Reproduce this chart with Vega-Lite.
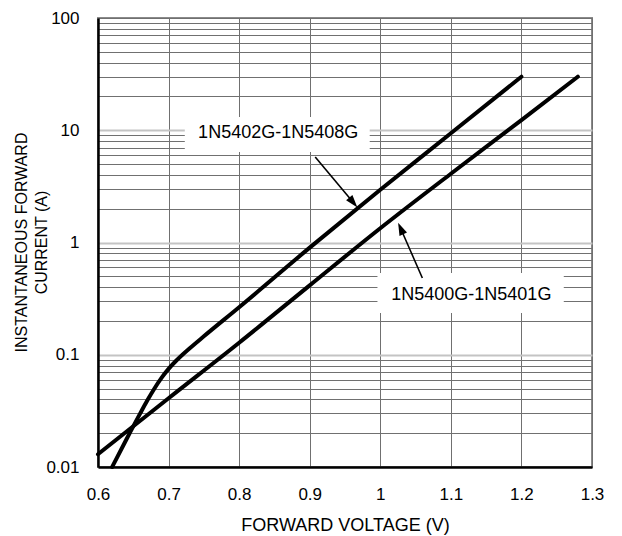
{
  "$schema": "https://vega.github.io/schema/vega-lite/v6.json",
  "width": 494,
  "height": 449,
  "autosize": "none",
  "padding": {"left": 98, "top": 18, "right": 30, "bottom": 69},
  "background": "white",
  "config": {
    "font": "Liberation Sans",
    "view": {"stroke": "#8a8a8a", "strokeWidth": 2},
    "axis": {
      "labelFont": "Liberation Sans",
      "titleFont": "Liberation Sans",
      "labelColor": "black",
      "titleColor": "black",
      "labelFontSize": 17,
      "titleFontSize": 18,
      "titleFontWeight": "normal",
      "domainColor": "black",
      "domainWidth": 2.5,
      "ticks": false,
      "labelFlush": false,
      "labelOverlap": false
    }
  },
  "datasets": {
    "curves": [
      {"series": "1N5402G-1N5408G", "v": 0.62, "i": 0.01},
      {"series": "1N5402G-1N5408G", "v": 0.64, "i": 0.0175},
      {"series": "1N5402G-1N5408G", "v": 0.66, "i": 0.0302},
      {"series": "1N5402G-1N5408G", "v": 0.67, "i": 0.0393},
      {"series": "1N5402G-1N5408G", "v": 0.68, "i": 0.0501},
      {"series": "1N5402G-1N5408G", "v": 0.69, "i": 0.0622},
      {"series": "1N5402G-1N5408G", "v": 0.7, "i": 0.0748},
      {"series": "1N5402G-1N5408G", "v": 0.71, "i": 0.0875},
      {"series": "1N5402G-1N5408G", "v": 0.72, "i": 0.1005},
      {"series": "1N5402G-1N5408G", "v": 0.73, "i": 0.1143},
      {"series": "1N5402G-1N5408G", "v": 0.75, "i": 0.146},
      {"series": "1N5402G-1N5408G", "v": 0.8, "i": 0.265},
      {"series": "1N5402G-1N5408G", "v": 0.9, "i": 0.9},
      {"series": "1N5402G-1N5408G", "v": 1.0, "i": 2.95},
      {"series": "1N5402G-1N5408G", "v": 1.1, "i": 9.4},
      {"series": "1N5402G-1N5408G", "v": 1.2, "i": 30},
      {"series": "1N5400G-1N5401G", "v": 0.6, "i": 0.013},
      {"series": "1N5400G-1N5401G", "v": 0.7, "i": 0.041},
      {"series": "1N5400G-1N5401G", "v": 0.8, "i": 0.128},
      {"series": "1N5400G-1N5401G", "v": 0.9, "i": 0.415},
      {"series": "1N5400G-1N5401G", "v": 1.0, "i": 1.34},
      {"series": "1N5400G-1N5401G", "v": 1.1, "i": 4.1},
      {"series": "1N5400G-1N5401G", "v": 1.2, "i": 12.3},
      {"series": "1N5400G-1N5401G", "v": 1.28, "i": 30}
    ],
    "labels": [
      {"label": "1N5402G-1N5408G", "v": 0.8553, "i": 9.45, "v0": 0.723, "v1": 0.985, "i0": 6.4, "i1": 13.1},
      {"label": "1N5400G-1N5401G", "v": 1.129, "i": 0.34, "v0": 0.996, "v1": 1.26, "i0": 0.236, "i1": 0.534}
    ],
    "arrows": [
      {"arrow": "A", "v0": 0.9078, "i0": 5.78, "v1": 0.9618, "i1": 2.27},
      {"arrow": "B", "v0": 1.0596, "i0": 0.483, "v1": 1.0289, "i1": 1.333}
    ]
  },
  "layer": [
    {
      "data": {"name": "labels"},
      "mark": {"type": "rect", "fill": "white", "stroke": null},
      "encoding": {
        "x": {"field": "v0", "type": "quantitative", "scale": {"domain": [0.6, 1.3], "nice": false, "zero": false},
              "axis": {"values": [0.6, 0.7, 0.8, 0.9, 1.0, 1.1, 1.2, 1.3], "format": "~g", "title": "FORWARD VOLTAGE (V)",
                       "gridColor": "#707070", "gridWidth": 1, "labelPadding": 19, "titlePadding": 14}},
        "x2": {"field": "v1"},
        "y": {"field": "i0", "type": "quantitative", "scale": {"type": "log", "domain": [0.01, 100], "nice": false},
              "axis": {
                "values": [0.01, 0.02, 0.03, 0.04, 0.05, 0.06, 0.07, 0.08, 0.09, 0.1, 0.2, 0.3, 0.4, 0.5, 0.6, 0.7, 0.8, 0.9, 1, 2, 3, 4, 5, 6, 7, 8, 9, 10, 20, 30, 40, 50, 60, 70, 80, 90, 100],
                "format": "~g",
                "labelExpr": "indexof([0.01, 0.1, 1, 10, 100], datum.value) >= 0 ? datum.label : ''",
                "labelPadding": 19,
                "gridColor": {"condition": {"test": "indexof([0.1, 1, 10], datum.value) >= 0", "value": "#c4c4c4"}, "value": "#707070"},
                "gridWidth": {"condition": {"test": "indexof([0.1, 1, 10], datum.value) >= 0", "value": 2}, "value": 1},
                "title": ["INSTANTANEOUS FORWARD", "CURRENT (A)"],
                "titleFontSize": 16,
                "titleLineHeight": 20,
                "titleAngle": -90,
                "titleAlign": "center",
                "titleBaseline": "middle",
                "titleX": -77,
                "titleY": 224
              }},
        "y2": {"field": "i1"}
      }
    },
    {
      "data": {"name": "curves"},
      "mark": {"type": "line", "color": "black", "strokeWidth": 4, "strokeCap": "round", "strokeJoin": "round", "interpolate": "monotone"},
      "encoding": {
        "x": {"field": "v", "type": "quantitative", "scale": {"domain": [0.6, 1.3], "nice": false, "zero": false}},
        "y": {"field": "i", "type": "quantitative", "scale": {"type": "log", "domain": [0.01, 100], "nice": false}},
        "detail": {"field": "series"},
        "order": {"field": "v", "type": "quantitative"}
      }
    },
    {
      "data": {"name": "arrows"},
      "mark": {"type": "rule", "color": "black", "strokeWidth": 1.6},
      "encoding": {
        "x": {"field": "v0", "type": "quantitative", "scale": {"domain": [0.6, 1.3], "nice": false, "zero": false}},
        "y": {"field": "i0", "type": "quantitative", "scale": {"type": "log", "domain": [0.01, 100], "nice": false}},
        "x2": {"field": "v1"},
        "y2": {"field": "i1"}
      }
    },
    {
      "data": {"name": "arrows"},
      "transform": [{"filter": "datum.arrow == 'A'"}],
      "mark": {"type": "point", "shape": "M0,-1L0.65,1L-0.65,1Z", "size": 160, "angle": 140, "filled": true, "color": "black", "opacity": 1},
      "encoding": {
        "x": {"field": "v1", "type": "quantitative", "scale": {"domain": [0.6, 1.3], "nice": false, "zero": false}},
        "y": {"field": "i1", "type": "quantitative", "scale": {"type": "log", "domain": [0.01, 100], "nice": false}}
      }
    },
    {
      "data": {"name": "arrows"},
      "transform": [{"filter": "datum.arrow == 'B'"}],
      "mark": {"type": "point", "shape": "M0,-1L0.65,1L-0.65,1Z", "size": 160, "angle": 336, "filled": true, "color": "black", "opacity": 1},
      "encoding": {
        "x": {"field": "v1", "type": "quantitative", "scale": {"domain": [0.6, 1.3], "nice": false, "zero": false}},
        "y": {"field": "i1", "type": "quantitative", "scale": {"type": "log", "domain": [0.01, 100], "nice": false}}
      }
    },
    {
      "data": {"name": "labels"},
      "mark": {"type": "text", "font": "Liberation Sans", "fontSize": 18, "color": "black", "align": "center", "baseline": "middle"},
      "encoding": {
        "x": {"field": "v", "type": "quantitative", "scale": {"domain": [0.6, 1.3], "nice": false, "zero": false}},
        "y": {"field": "i", "type": "quantitative", "scale": {"type": "log", "domain": [0.01, 100], "nice": false}},
        "text": {"field": "label"}
      }
    }
  ]
}
